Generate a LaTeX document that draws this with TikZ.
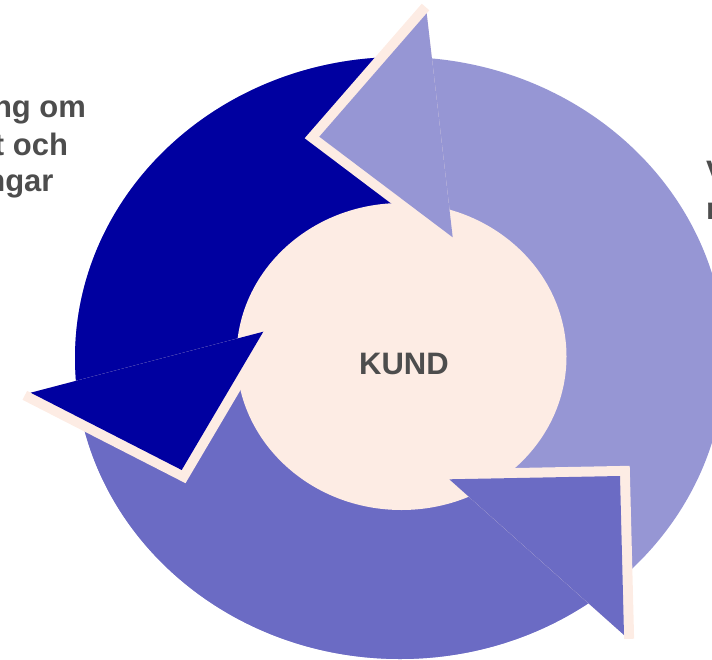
\documentclass[tikz,border=0pt]{standalone}
\usepackage{fontspec}
\setmainfont{Liberation Sans}
\definecolor{lightp}{HTML}{9696D4}
\definecolor{medp}{HTML}{6B6BC4}
\definecolor{darkb}{HTML}{0000A0}
\definecolor{blush}{HTML}{FDECE4}
\definecolor{txtgray}{HTML}{4D4D4D}
\begin{document}
\begin{tikzpicture}[x=1pt,y=-1pt,
  lbl/.style={font=\fontsize{31}{37.2}\selectfont\bfseries, text=txtgray, inner sep=0pt, outer sep=0pt},
  bandfill/.style={fill=blush}]
\useasboundingbox (0,0) rectangle (712,659);
\clip (0,0) rectangle (712,659);
% ring bodies
\fill[lightp] (400,358) ellipse (325 and 301);
\begin{scope}
  \clip (400,358) ellipse (325 and 301);
  \fill[medp] (-50,421.9) -- (270,338) -- (402,357) -- (439.7,460) -- (753,740) -- (-50,740) -- cycle;
  \fill[darkb] (407.3,-85) -- (447.3,260) -- (402,357) -- (270,338) -- (-50,421.9) -- (-50,-85) -- cycle;
\end{scope}
% centre
\fill[blush] (401.5,356.5) ellipse (165 and 153.5);
% light purple arrow head
\fill[bandfill] (429.3,10.3) -- (421.8,3.7) -- (304.7,138.2) -- (446.7,245.3) -- (452.7,237.3) -- (426.7,13.3) -- cycle;
\fill[lightp] (426.7,13.3) -- (319.3,136.7) -- (452.7,237.3) -- cycle;
% dark blue arrow head
\fill[bandfill] (27.1,390.9) -- (22.5,399.8) -- (185.5,483.2) -- (271.9,336.8) -- (263.3,331.7) -- (30.7,392.7) -- cycle;
\fill[darkb] (30.7,392.7) -- (181.7,470) -- (263.3,331.7) -- cycle;
% medium purple arrow head
\fill[bandfill] (624.1,639) -- (634.1,638.7) -- (629.7,465.8) -- (449.1,469.3) -- (449.3,479.3) -- (624,635) -- cycle;
\fill[medp] (624,635) -- (620,476) -- (449.3,479.3) -- cycle;
% texts
\node[lbl, anchor=base] (kund) at (404,374) {KUND};
\node[lbl, anchor=base east] (left1) at (86,117.3) {ng om};
\node[lbl, anchor=base east] (left2) at (68,155) {t och};
\node[lbl, anchor=base east] (left3) at (53.5,191.7) {ngar};
\node[lbl, anchor=base west] (right1) at (706,182.2) {V};
\node[lbl, anchor=base west] (right2) at (706,219.5) {n};
\end{tikzpicture}
\end{document}
